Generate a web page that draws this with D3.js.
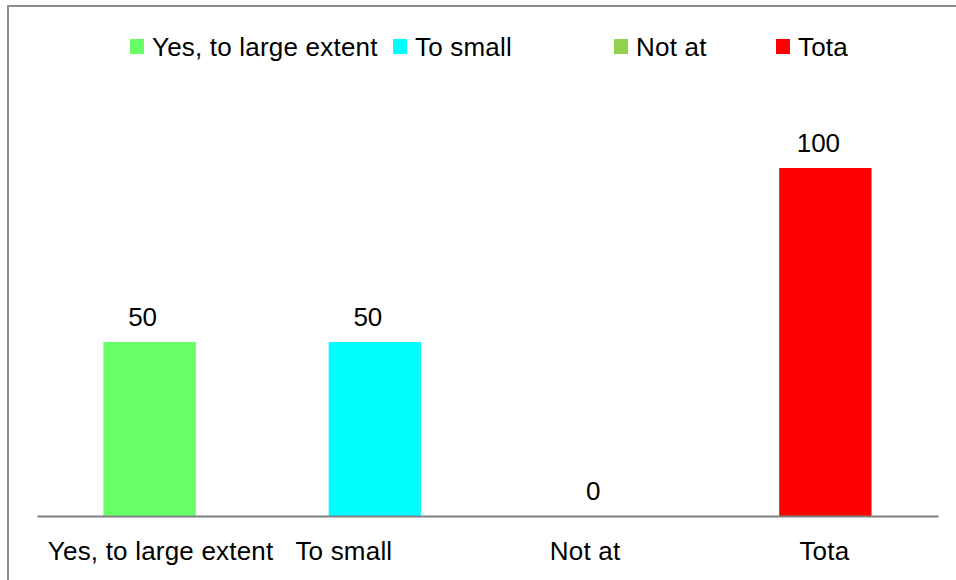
<!DOCTYPE html>
<html>
<head>
<meta charset="utf-8">
<script src="https://cdn.jsdelivr.net/npm/d3@7"></script>
<style>
  html, body { margin: 0; padding: 0; background: #fff; }
  svg { display: block; }
  text { font-family: "Liberation Sans", Arial, sans-serif; fill: #000; }
</style>
</head>
<body>
<svg id="chart" width="956" height="580"></svg>
<script>
// Survey response counts
const categories = ["Yes, to large extent", "To small", "Not at", "Tota"];
const values = [50, 50, 0, 100];
const colors = ["#66FF66", "#00FFFF", "#92D050", "#FF0000"];

const W = 956, H = 580;
const FONT = "26px";
const svg = d3.select("#chart");

// Outer chart frame
svg.append("rect")
  .attr("x", 8).attr("y", 6)
  .attr("width", W + 10).attr("height", H + 10)
  .attr("fill", "none").attr("stroke", "#8c8c8c").attr("stroke-width", 2);

const plot = { left: 37, right: 938, bottom: 516 };

const x = d3.scaleBand()
  .domain(categories)
  .range([plot.left, plot.right])
  .paddingInner(0.59)
  .paddingOuter(0.295);

const y = d3.scaleLinear()
  .domain([0, 100])
  .range([plot.bottom, 168]);

// Bars
svg.append("g").selectAll("rect")
  .data(categories)
  .join("rect")
  .attr("x", d => x(d))
  .attr("width", x.bandwidth())
  .attr("y", (d, i) => y(values[i]))
  .attr("height", (d, i) => y(0) - y(values[i]))
  .attr("fill", (d, i) => colors[i]);

// Category axis; long labels are nudged sideways so they don't collide
const labelNudge = [11, -31, -15, -1];
const xAxis = d3.axisBottom(x).tickSize(0).tickPadding(0);
const gx = svg.append("g")
  .attr("transform", `translate(0,${plot.bottom})`)
  .call(xAxis);
gx.select(".domain").attr("stroke", "#808080").attr("stroke-width", 2);
gx.selectAll("text")
  .style("font-family", "'Liberation Sans', Arial, sans-serif")
  .style("font-size", FONT)
  .style("letter-spacing", "0.2px")
  .attr("dy", null)
  .attr("y", 44)
  .attr("x", (d, i) => labelNudge[i])
  .attr("fill", "#000");

// Value labels
svg.append("g").selectAll("text")
  .data(categories)
  .join("text")
  .attr("x", d => x(d) + x.bandwidth() / 2 - 7)
  .attr("y", (d, i) => y(values[i]) - 16)
  .attr("text-anchor", "middle")
  .style("font-size", FONT)
  .text((d, i) => values[i]);

// Legend
const legendX = [130, 393, 614, 776];
const lg = svg.append("g").selectAll("g")
  .data(categories)
  .join("g")
  .attr("transform", (d, i) => `translate(${legendX[i]},39)`);
lg.append("rect")
  .attr("width", 14).attr("height", 15)
  .attr("fill", (d, i) => colors[i]);
lg.append("text")
  .attr("x", 22).attr("y", 17)
  .style("font-size", FONT)
  .style("letter-spacing", "0.2px")
  .text(d => d);
</script>
</body>
</html>
